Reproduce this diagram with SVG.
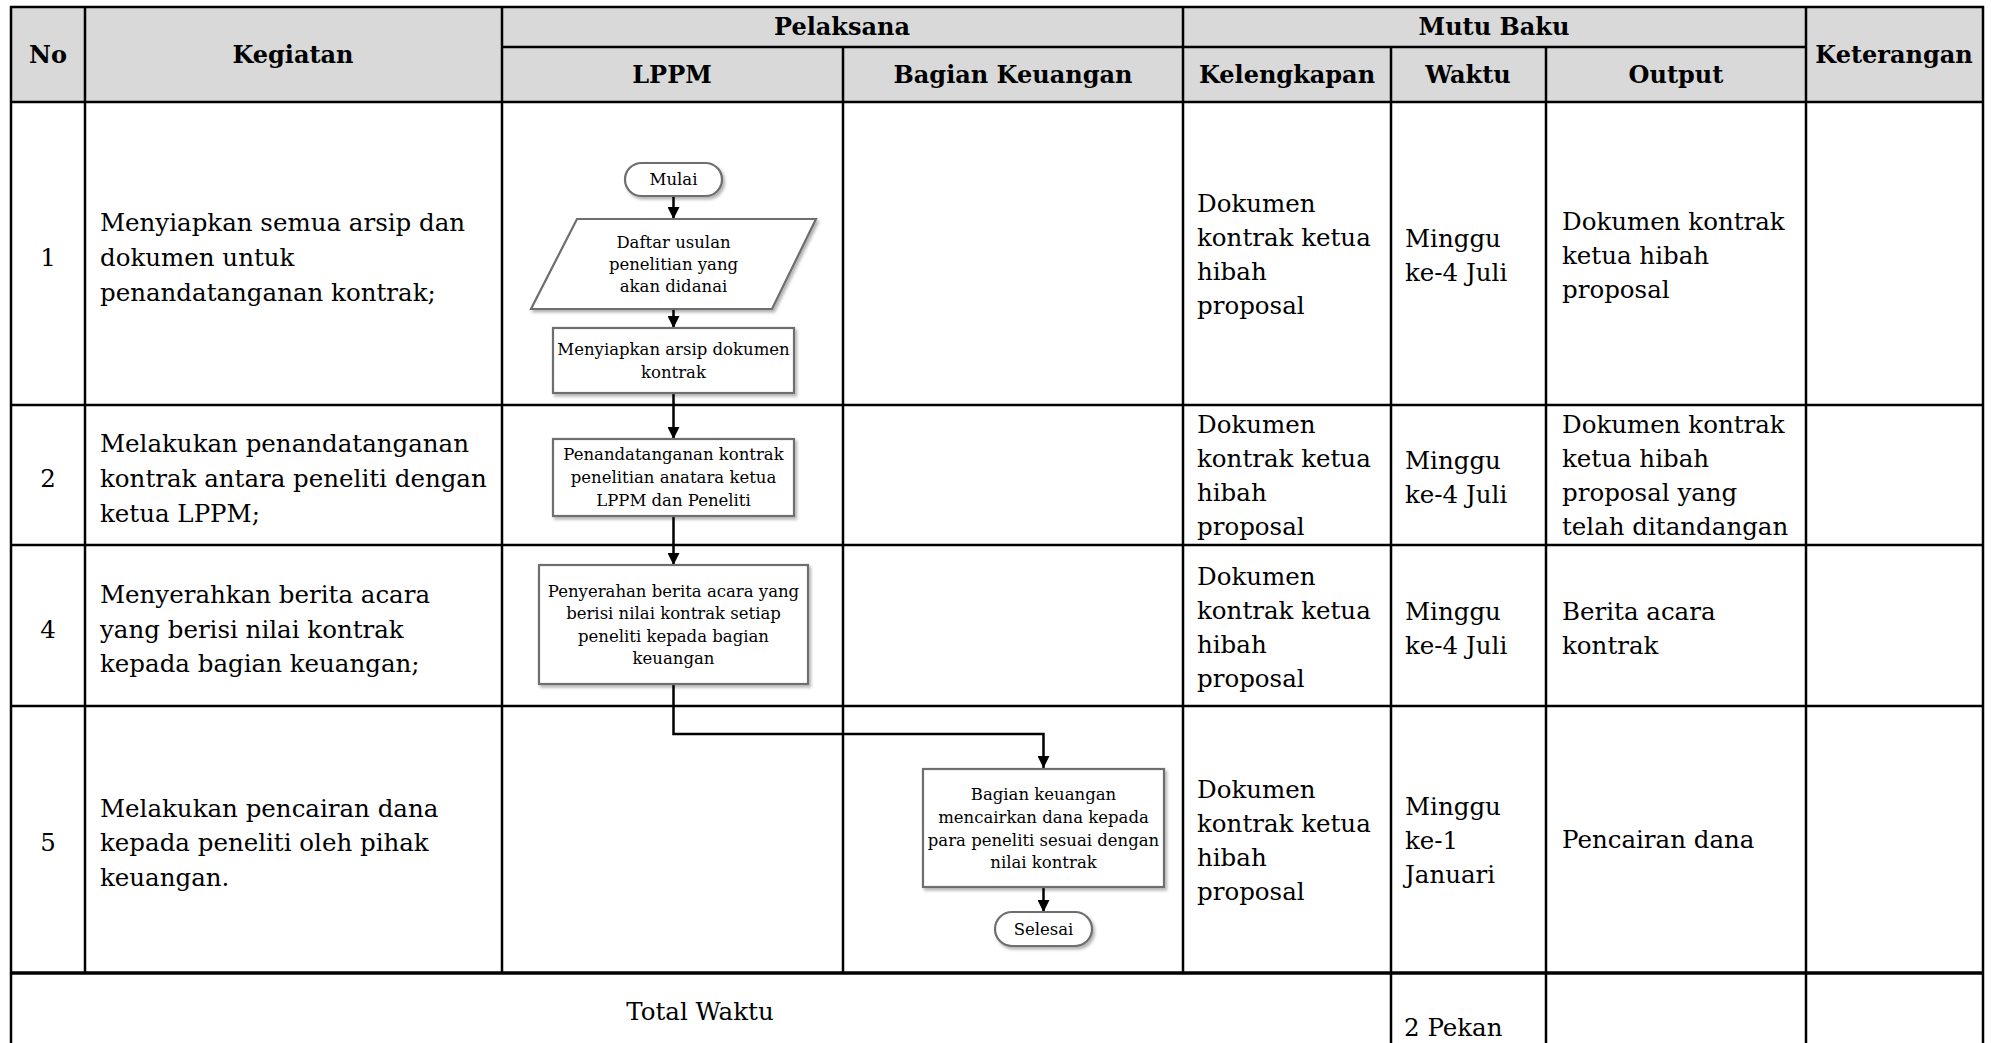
<svg xmlns="http://www.w3.org/2000/svg" width="1993" height="1043" viewBox="0 0 1993 1043">
<style>
.grid line{stroke:#000;stroke-width:2.5}
.hd{font-family:"DejaVu Serif","Liberation Serif",serif;font-weight:bold;font-size:24px;fill:#000;text-anchor:middle}
.bd{font-family:"DejaVu Serif","Liberation Serif",serif;font-size:24.5px;fill:#000}
.num{text-anchor:middle}
.fc{font-family:"DejaVu Serif","Liberation Serif",serif;font-size:16.5px;fill:#000;text-anchor:middle}
.box{fill:#fff;stroke:#6e6e6e;stroke-width:2.2;filter:url(#sh)}
.con{fill:none;stroke:#000;stroke-width:2.5}
</style>
<defs>
<filter id="sh" x="-10%" y="-10%" width="130%" height="140%">
<feDropShadow dx="2" dy="2.5" stdDeviation="1.5" flood-color="#000" flood-opacity="0.3"/>
</filter>
<marker id="arr" markerUnits="userSpaceOnUse" markerWidth="12" markerHeight="12" refX="12" refY="6" orient="auto">
<path d="M0,0 L12,6 L0,12 z" fill="#000"/>
</marker>
</defs>
<rect width="1993" height="1043" fill="#fff"/>
<rect x="11" y="7" width="1972" height="95" fill="#d9d9d9"/>
<g id="table-grid" class="grid">
<line x1="10" y1="7" x2="1984" y2="7"/>
<line x1="502" y1="47" x2="1806" y2="47"/>
<line x1="10" y1="102" x2="1984" y2="102"/>
<line x1="10" y1="405" x2="1984" y2="405"/>
<line x1="10" y1="545" x2="1984" y2="545"/>
<line x1="10" y1="706" x2="1984" y2="706"/>
<line x1="10" y1="973" x2="1984" y2="973" style="stroke-width:3.5"/>
<line x1="11" y1="6" x2="11" y2="1043"/>
<line x1="85" y1="6" x2="85" y2="973"/>
<line x1="502" y1="6" x2="502" y2="973"/>
<line x1="843" y1="47" x2="843" y2="973"/>
<line x1="1183" y1="6" x2="1183" y2="973"/>
<line x1="1391" y1="47" x2="1391" y2="1043"/>
<line x1="1546" y1="47" x2="1546" y2="1043"/>
<line x1="1806" y1="6" x2="1806" y2="1043"/>
<line x1="1983" y1="6" x2="1983" y2="1043"/>
</g>
<g id="header">
<text class="hd" x="48" y="63">No</text>
<text class="hd" x="293" y="63">Kegiatan</text>
<text class="hd" x="842" y="35">Pelaksana</text>
<text class="hd" x="672" y="83">LPPM</text>
<text class="hd" x="1013" y="83">Bagian Keuangan</text>
<text class="hd" x="1494" y="35">Mutu Baku</text>
<text class="hd" x="1287" y="83">Kelengkapan</text>
<text class="hd" x="1468" y="83">Waktu</text>
<text class="hd" x="1676" y="83">Output</text>
<text class="hd" x="1894" y="63">Keterangan</text>
</g>
<g id="row1">
<text class="bd num" x="48" y="266">1</text>
<text class="bd" x="100" y="231">Menyiapkan semua arsip dan</text>
<text class="bd" x="100" y="266">dokumen untuk</text>
<text class="bd" x="100" y="301">penandatanganan kontrak;</text>
<text class="bd" x="1197" y="212">Dokumen</text>
<text class="bd" x="1197" y="246">kontrak ketua</text>
<text class="bd" x="1197" y="280">hibah</text>
<text class="bd" x="1197" y="314">proposal</text>
<text class="bd" x="1405" y="247">Minggu</text>
<text class="bd" x="1405" y="281">ke-4 Juli</text>
<text class="bd" x="1562" y="230">Dokumen kontrak</text>
<text class="bd" x="1562" y="264">ketua hibah</text>
<text class="bd" x="1562" y="298">proposal</text>
</g>
<g id="row2">
<text class="bd num" x="48" y="487">2</text>
<text class="bd" x="100" y="452">Melakukan penandatanganan</text>
<text class="bd" x="100" y="487">kontrak antara peneliti dengan</text>
<text class="bd" x="100" y="522">ketua LPPM;</text>
<text class="bd" x="1197" y="433">Dokumen</text>
<text class="bd" x="1197" y="467">kontrak ketua</text>
<text class="bd" x="1197" y="501">hibah</text>
<text class="bd" x="1197" y="535">proposal</text>
<text class="bd" x="1405" y="469">Minggu</text>
<text class="bd" x="1405" y="503">ke-4 Juli</text>
<text class="bd" x="1562" y="433">Dokumen kontrak</text>
<text class="bd" x="1562" y="467">ketua hibah</text>
<text class="bd" x="1562" y="501">proposal yang</text>
<text class="bd" x="1562" y="535">telah ditandangan</text>
</g>
<g id="row4">
<text class="bd num" x="48" y="638">4</text>
<text class="bd" x="100" y="603">Menyerahkan berita acara</text>
<text class="bd" x="100" y="638">yang berisi nilai kontrak</text>
<text class="bd" x="100" y="672">kepada bagian keuangan;</text>
<text class="bd" x="1197" y="585">Dokumen</text>
<text class="bd" x="1197" y="619">kontrak ketua</text>
<text class="bd" x="1197" y="653">hibah</text>
<text class="bd" x="1197" y="687">proposal</text>
<text class="bd" x="1405" y="620">Minggu</text>
<text class="bd" x="1405" y="654">ke-4 Juli</text>
<text class="bd" x="1562" y="620">Berita acara</text>
<text class="bd" x="1562" y="654">kontrak</text>
</g>
<g id="row5">
<text class="bd num" x="48" y="851">5</text>
<text class="bd" x="100" y="817">Melakukan pencairan dana</text>
<text class="bd" x="100" y="851">kepada peneliti oleh pihak</text>
<text class="bd" x="100" y="886">keuangan.</text>
<text class="bd" x="1197" y="798">Dokumen</text>
<text class="bd" x="1197" y="832">kontrak ketua</text>
<text class="bd" x="1197" y="866">hibah</text>
<text class="bd" x="1197" y="900">proposal</text>
<text class="bd" x="1405" y="815">Minggu</text>
<text class="bd" x="1405" y="849">ke-1</text>
<text class="bd" x="1405" y="883">Januari</text>
<text class="bd" x="1562" y="848">Pencairan dana</text>
</g>
<g id="total">
<text class="bd num" x="700" y="1020">Total Waktu</text>
<text class="bd" x="1404" y="1036">2 Pekan</text>
</g>
<g id="connectors">
<line class="con" x1="673.5" y1="196" x2="673.5" y2="219" marker-end="url(#arr)"/>
<line class="con" x1="673.5" y1="309" x2="673.5" y2="328" marker-end="url(#arr)"/>
<line class="con" x1="673.5" y1="393" x2="673.5" y2="439" marker-end="url(#arr)"/>
<line class="con" x1="673.5" y1="516" x2="673.5" y2="565" marker-end="url(#arr)"/>
<polyline class="con" points="673.5,684 673.5,734 1043.5,734 1043.5,768" marker-end="url(#arr)"/>
<line class="con" x1="1043.5" y1="887" x2="1043.5" y2="912" marker-end="url(#arr)"/>
</g>
<g id="node-mulai">
<rect class="box" x="625" y="163" width="97" height="33" rx="16.5"/>
<text class="fc" x="673.5" y="185">Mulai</text>
</g>
<g id="node-daftar">
<polygon class="box" points="577,219 816,219 772,309 531,309"/>
<text class="fc" x="673.5" y="248">Daftar usulan</text>
<text class="fc" x="673.5" y="270">penelitian yang</text>
<text class="fc" x="673.5" y="292">akan didanai</text>
</g>
<g id="node-menyiapkan">
<rect class="box" x="553" y="328" width="241" height="65"/>
<text class="fc" x="673.5" y="355">Menyiapkan arsip dokumen</text>
<text class="fc" x="673.5" y="378">kontrak</text>
</g>
<g id="node-penandatanganan">
<rect class="box" x="553" y="439" width="241" height="77"/>
<text class="fc" x="673.5" y="460">Penandatanganan kontrak</text>
<text class="fc" x="673.5" y="483">penelitian anatara ketua</text>
<text class="fc" x="673.5" y="506">LPPM dan Peneliti</text>
</g>
<g id="node-penyerahan">
<rect class="box" x="539" y="565" width="269" height="119"/>
<text class="fc" x="673.5" y="597">Penyerahan berita acara yang</text>
<text class="fc" x="673.5" y="619">berisi nilai kontrak setiap</text>
<text class="fc" x="673.5" y="642">peneliti kepada bagian</text>
<text class="fc" x="673.5" y="664">keuangan</text>
</g>
<g id="node-pencairan">
<rect class="box" x="923" y="769" width="241" height="118"/>
<text class="fc" x="1043.5" y="800">Bagian keuangan</text>
<text class="fc" x="1043.5" y="823">mencairkan dana kepada</text>
<text class="fc" x="1043.5" y="846">para peneliti sesuai dengan</text>
<text class="fc" x="1043.5" y="868">nilai kontrak</text>
</g>
<g id="node-selesai">
<rect class="box" x="995" y="912" width="97" height="34" rx="17"/>
<text class="fc" x="1043.5" y="935">Selesai</text>
</g>
</svg>
